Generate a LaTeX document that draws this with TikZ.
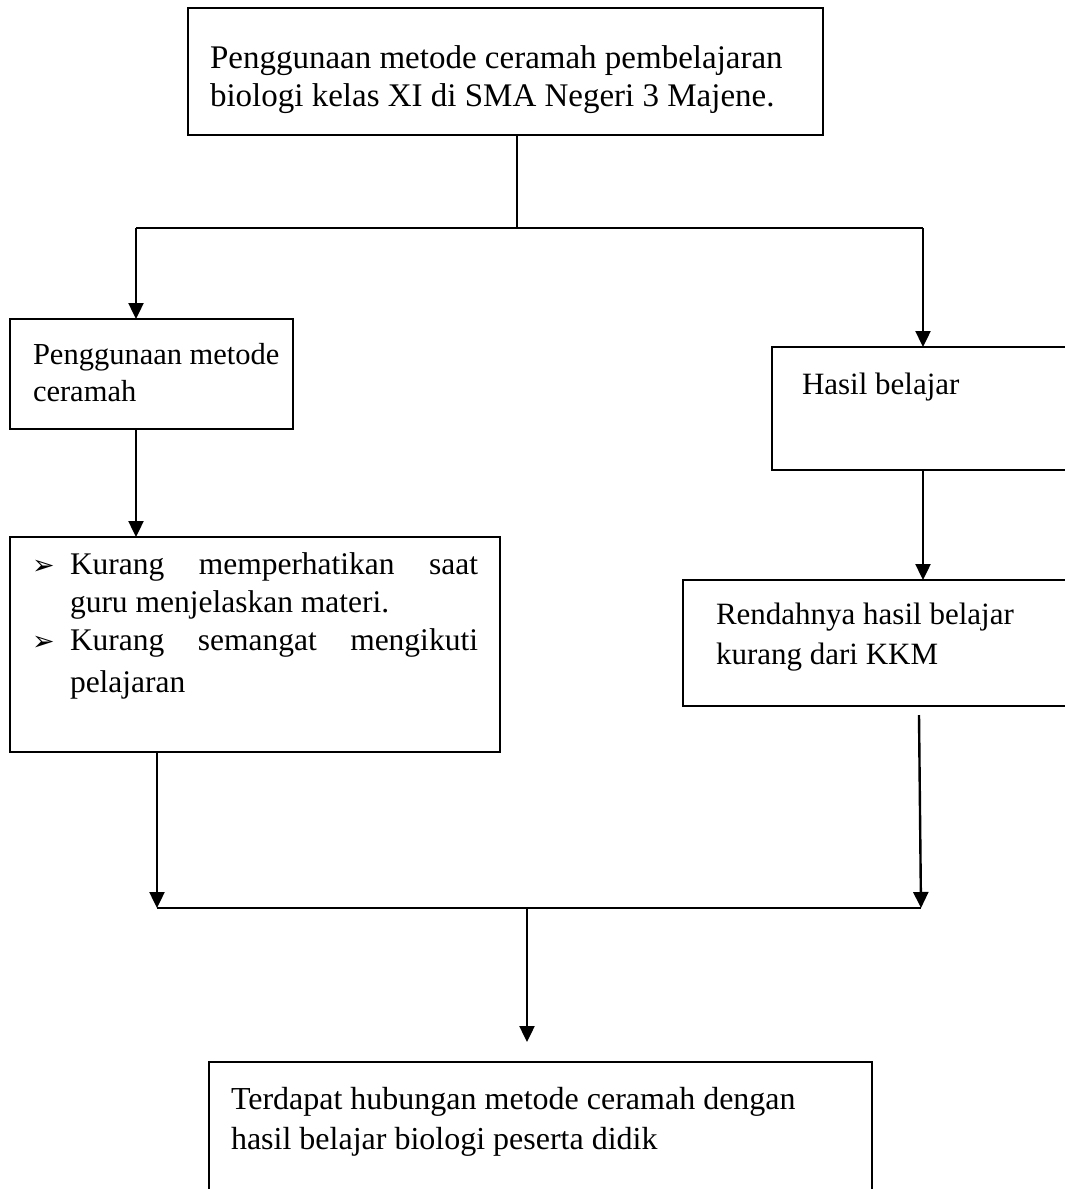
\documentclass[tikz,border=0pt]{standalone}
\usepackage{fontspec}
\setmainfont{Liberation Serif}
\newfontfamily\dejavu{DejaVu Sans}
\usetikzlibrary{arrows.meta}
\begin{document}
\begin{tikzpicture}[x=1pt,y=-1pt,
  box/.style={draw, line width=2pt, inner sep=0pt, outer sep=0pt, anchor=north west},
  arr/.style={line width=2.4pt, -{Triangle[length=16pt,width=15pt]}},
  ln/.style={line width=2pt},
  txt/.style={anchor=base west, inner sep=0pt, outer sep=0pt},
  fA/.style={font=\fontsize{33}{38}\selectfont},
  fB/.style={font=\fontsize{30.5}{37}\selectfont},
  fC/.style={font=\fontsize{31.5}{38}\selectfont},
  fD/.style={font=\fontsize{31}{38}\selectfont},
  fE/.style={font=\fontsize{32}{40}\selectfont},
  bul/.style={anchor=base west, inner sep=0pt, font=\dejavu\fontsize{27}{30}\selectfont}]
\useasboundingbox (0,0) rectangle (1065,1189);
\clip (0,0) rectangle (1065,1189);
\fill[white] (0,0) rectangle (1065,1189);

% boxes
\node[box, minimum width=635pt, minimum height=127pt] (top) at (188,8) {};
\node[box, minimum width=283pt, minimum height=110pt] (left1) at (10,319) {};
\node[box, minimum width=490pt, minimum height=215pt] (left2) at (10,537) {};
\node[box, minimum width=313pt, minimum height=123pt] (right1) at (772,347) {};
\node[box, minimum width=402pt, minimum height=126pt] (right2) at (683,580) {};
\node[box, minimum width=663pt, minimum height=148pt] (bottom) at (209,1062) {};

% texts
\node[txt, fA] (t1a) at (210,68) {Penggunaan metode ceramah pembelajaran};
\node[txt, fA] (t1b) at (210,106) {biologi kelas XI di SMA Negeri 3 Majene.};
\node[txt, fB] (l1a) at (33,364) {Penggunaan metode};
\node[txt, fB] (l1b) at (33,401) {ceramah};
\node[bul] (b1) at (32,574) {➢};
\node[txt, fC] (l2a) at (70,574) {\makebox[408pt][s]{Kurang memperhatikan saat}};
\node[txt, fC] (l2b) at (70,612) {guru menjelaskan materi.};
\node[bul] (b2) at (32,650) {➢};
\node[txt, fC] (l2c) at (70,650) {\makebox[408pt][s]{Kurang semangat mengikuti}};
\node[txt, fC] (l2d) at (70,692) {pelajaran};
\node[txt, fD] (r1a) at (802,394) {Hasil belajar};
\node[txt, fD] (r2a) at (716,624) {Rendahnya hasil belajar};
\node[txt, fD] (r2b) at (716,664) {kurang dari KKM};
\node[txt, fE] (bta) at (231,1109) {Terdapat hubungan metode ceramah dengan};
\node[txt, fE] (btb) at (231,1149) {hasil belajar biologi peserta didik};

% junction coordinates
\coordinate (j1) at (517,228);
\coordinate (jl) at (136,228);
\coordinate (jr) at (923,228);
\coordinate (bl) at (157,908);
\coordinate (br) at (921,908);
\coordinate (bm) at (527,908);
\coordinate (rs) at (919,715);
\coordinate (bt) at (527,1042);

% connectors
\draw[ln] (top.south -| j1) -- (j1);
\draw[ln] (jl) -- (jr);
\draw[arr] (jl) -- (jl |- left1.north);
\draw[arr] (jr) -- (jr |- right1.north);
\draw[arr] (left1.south -| jl) -- (left2.north -| jl);
\draw[arr] (right1.south -| jr) -- (right2.north -| jr);
\draw[arr] (left2.south -| bl) -- (bl);
\draw[arr] (rs) -- (br);
\draw[ln] (bl) -- (br);
\draw[arr] (bm) -- (bt);
\end{tikzpicture}
\end{document}
